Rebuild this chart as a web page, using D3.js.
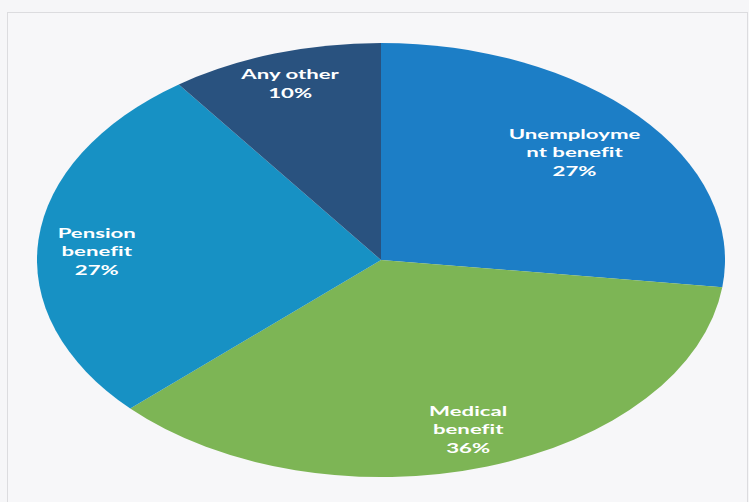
<!DOCTYPE html>
<html>
<head>
<meta charset="utf-8">
<script src="https://cdn.jsdelivr.net/npm/d3@7"></script>
<style>
    body { margin: 0; background: #f6f6f8; }
    svg { display: block; }
    .lbl { font-family: Lato, "Open Sans", sans-serif; font-weight: 700; font-size: 14px; fill: #fff; font-variant-ligatures: none; }
</style>
</head>
<body>
<script>

// data
var categories = ['Unemployment benefit', 'Medical benefit', 'Pension benefit', 'Any other'];
var shares = [27, 36, 27, 10];
var labelLines = [['Unemployme', 'nt benefit'], ['Medical', 'benefit'], ['Pension', 'benefit'], ['Any other']];
var colors = ['#1c7ec6', '#7db555', '#1791c4', '#29527f'];
// how far out each label sits (fraction of radius), plus a small nudge down
var labelPos = [0.75, 0.82, 0.83, 0.855];
var labelDy = [0, 0, 8, 0];

var svg = d3.select('body').append('svg')
    .attr('width', 749)
    .attr('height', 502);

// faint frame
svg.append('rect')
    .attr('x', 7.5).attr('y', 12.5)
    .attr('width', 740).attr('height', 500)
    .attr('fill', '#f7f7f9')
    .attr('stroke', '#dcdcdf');

var cx = 381, cy = 260;
var r = 217;
var sx = 344 / r;   // pie is stretched sideways

var pie = d3.pie().sort(null).value(d => d);
var arcs = pie(shares);

var arc = d3.arc().innerRadius(0).outerRadius(r);

var g = svg.append('g')
    .attr('transform', 'translate(' + cx + ',' + cy + ') scale(' + sx + ',1)');

g.selectAll('path')
    .data(arcs)
    .enter().append('path')
    .attr('d', arc)
    .attr('fill', (d, i) => colors[i]);

// labels
var lineH = 18.5;
arcs.forEach(function (d, i) {
    var la = d3.arc().innerRadius(r * labelPos[i]).outerRadius(r * labelPos[i]);
    var c = la.centroid(d);
    var lines = labelLines[i].concat([shares[i] + '%']);
    var t = svg.append('text')
        .attr('class', 'lbl')
        .attr('text-anchor', 'middle')
        .attr('transform', 'translate(' + (cx + c[0] * sx) + ',' + (cy + c[1] + labelDy[i]) + ') scale(' + sx + ',1)');
    lines.forEach(function (s, j) {
        t.append('tspan')
            .attr('x', 0)
            .attr('y', (j - (lines.length - 1) / 2) * lineH + 5)
            .text(s);
    });
});

</script>
</body>
</html>
